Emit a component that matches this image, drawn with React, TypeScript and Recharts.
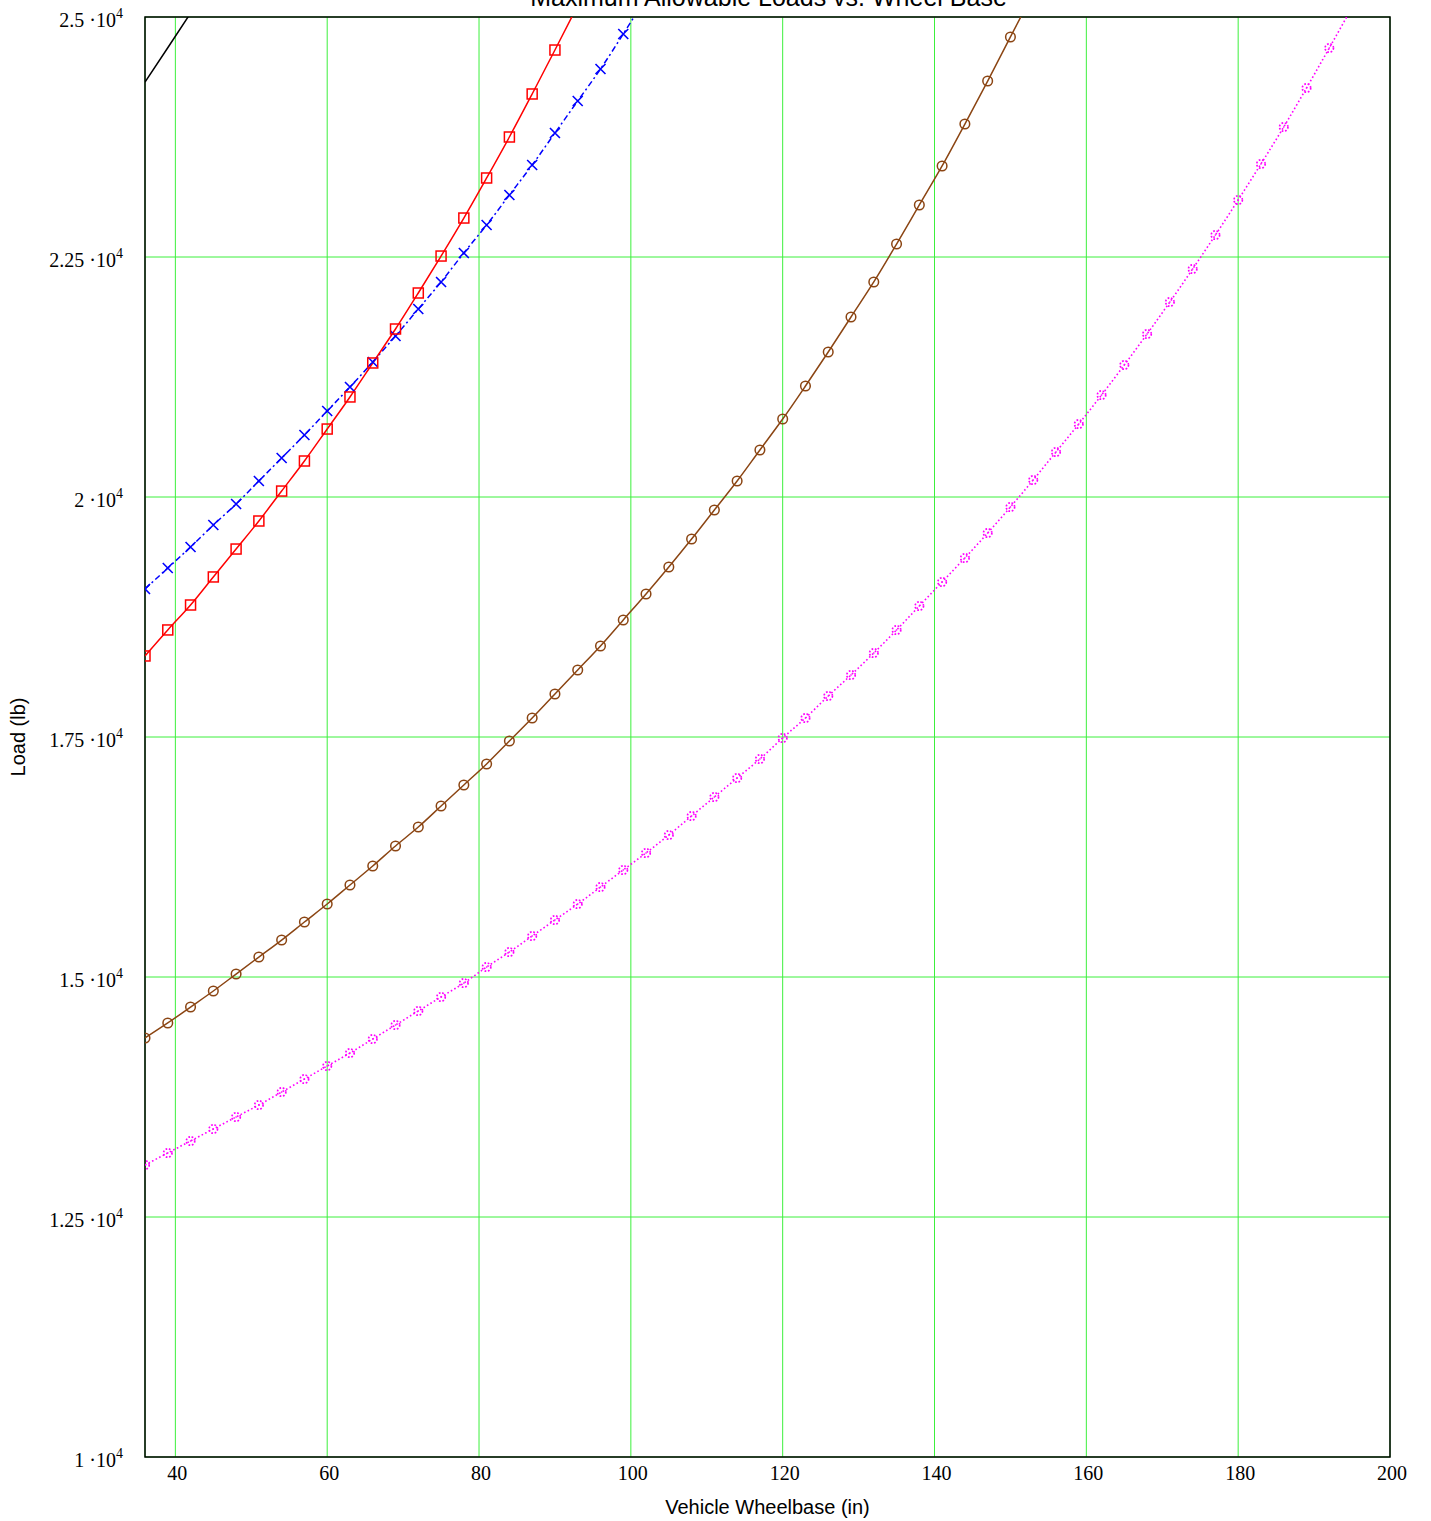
import React from 'react';
import { LineChart, Line, XAxis, YAxis, CartesianGrid, ReferenceArea, Label } from 'recharts';

// wheelbase positions of the markers (inches)
const wheelbase = [
  36, 39, 42, 45, 48, 51, 54, 57, 60, 63, 66, 69, 72, 75, 78, 81, 84, 87, 90, 93,
  96, 99, 102, 105, 108, 111, 114, 117, 120, 123, 126, 129, 132, 135, 138, 141, 144, 147, 150, 153,
  156, 159, 162, 165, 168, 171, 174, 177, 180, 183, 186, 189, 192, 195,
];

// loads (lb); last value of each runs past the top edge
const blackLoads = [24323, 24680, 25040];
const redLoads = [
  18344, 18615, 18875, 19167, 19458, 19750, 20062, 20375, 20708, 21042,
  21396, 21750, 22125, 22510, 22906, 23323, 23750, 24198, 24656, 25120,
];
const blueLoads = [
  19042, 19260, 19479, 19708, 19927, 20167, 20406, 20646, 20896, 21146,
  21406, 21677, 21958, 22240, 22542, 22833, 23146, 23458, 23792, 24125,
  24458, 24823, 25200,
];
const brownLoads = [
  14365, 14521, 14687, 14854, 15031, 15208, 15385, 15573, 15760, 15958,
  16156, 16365, 16562, 16781, 17000, 17219, 17458, 17698, 17948, 18198,
  18448, 18719, 18990, 19271, 19562, 19865, 20167, 20490, 20812, 21156,
  21510, 21875, 22240, 22635, 23042, 23448, 23885, 24333, 24792, 25250,
];
const magentaLoads = [
  13042, 13167, 13292, 13417, 13542, 13667, 13802, 13937, 14073, 14208,
  14354, 14500, 14646, 14792, 14937, 15104, 15260, 15427, 15594, 15760,
  15937, 16115, 16292, 16479, 16677, 16875, 17073, 17271, 17490, 17698,
  17927, 18146, 18375, 18615, 18865, 19115, 19365, 19625, 19896, 20177,
  20469, 20760, 21062, 21375, 21698, 22031, 22375, 22729, 23094, 23469,
  23854, 24260, 24677, 25100,
];

const xTicks = [40, 60, 80, 100, 120, 140, 160, 180, 200];
const yTicks = [10000, 12500, 15000, 17500, 20000, 22500, 25000];

const toSeries = (loads: number[]) => loads.map((load, i) => ({ wb: wheelbase[i], load }));

const GRID = '#3cf03c';
const SERIF = '"Liberation Serif", "Times New Roman", serif';
const SANS = '"Liberation Sans", Arial, sans-serif';

function XTick({ x, y, payload }: any) {
  return (
    <text x={x + 2} y={y + 23} textAnchor="middle" fontFamily={SERIF} fontSize={20} fill="#000">
      {payload.value}
    </text>
  );
}

function YTick({ x, y, payload }: any) {
  const mant = String(payload.value / 10000);
  return (
    <text x={x - 22} y={y + 10} textAnchor="end" fontFamily={SERIF} fontSize={20} fill="#000">
      <tspan>{mant} {'\u00B7'}10</tspan>
      <tspan fontSize={14} dy={-9}>4</tspan>
    </text>
  );
}

function SquareDot({ cx, cy, index }: any) {
  return <rect key={`sq-${index}`} x={cx - 5} y={cy - 5} width={10} height={10} fill="none" stroke="#ff0000" strokeWidth={1.5} />;
}

function CrossDot({ cx, cy, index }: any) {
  return (
    <path key={`cr-${index}`} d={`M${cx - 5},${cy - 5}L${cx + 5},${cy + 5}M${cx - 5},${cy + 5}L${cx + 5},${cy - 5}`}
      stroke="#0000ff" strokeWidth={1.6} fill="none" />
  );
}

function CircleDot({ cx, cy, index }: any) {
  return <circle key={`ci-${index}`} cx={cx} cy={cy} r={4.8} fill="none" stroke="#8b4513" strokeWidth={1.5} />;
}

function DottedDot({ cx, cy, index }: any) {
  return (
    <g key={`dd-${index}`}>
      <circle cx={cx} cy={cy} r={4.2} fill="none" stroke="#ff00ff" strokeWidth={1.7} strokeDasharray="1.7 1.7" />
      <rect x={cx - 0.7} y={cy - 0.7} width={1.4} height={1.4} fill="#ff00ff" />
    </g>
  );
}

export default function App() {
  return (
    <div style={{ position: 'absolute', left: 0, top: 0 }}>
      <LineChart width={1431} height={1521} margin={{ top: 17, right: 41, bottom: 24, left: 0 }}>
        <CartesianGrid stroke={GRID} strokeWidth={1} />
        <XAxis
          type="number"
          dataKey="wb"
          domain={[36, 200]}
          ticks={xTicks}
          allowDataOverflow
          height={40}
          axisLine={false}
          tickLine={false}
          tickSize={0}
          tickMargin={0}
          tick={<XTick />}
        >
          <Label
            content={({ viewBox }: any) => (
              <g>
                <text x={viewBox.x + viewBox.width / 2} y={viewBox.y + 57} textAnchor="middle" fontFamily={SANS} fontSize={20} fill="#000">
                  Vehicle Wheelbase (in)
                </text>
                <text x={viewBox.x + viewBox.width / 2 + 1} y={6} textAnchor="middle" fontFamily={SANS} fontSize={25} fill="#000">
                  Maximum Allowable Loads vs. Wheel Base
                </text>
              </g>
            )}
          />
        </XAxis>
        <YAxis
          type="number"
          dataKey="load"
          domain={[10000, 25000]}
          ticks={yTicks}
          allowDataOverflow
          width={145}
          axisLine={false}
          tickLine={false}
          tickSize={0}
          tickMargin={0}
          tick={<YTick />}
        >
          <Label
            content={({ viewBox }: any) => {
              const cy = viewBox.y + viewBox.height / 2;
              return (
                <text x={25} y={cy} transform={`rotate(-90 25 ${cy})`} textAnchor="middle" fontFamily={SANS} fontSize={20} fill="#000">
                  Load (lb)
                </text>
              );
            }}
          />
        </YAxis>

        <Line data={toSeries(magentaLoads)} dataKey="load" type="monotone" stroke="#ff00ff" strokeWidth={1.6}
          strokeDasharray="1.6 2.4" dot={(p: any) => <DottedDot key={`m-${p.index}`} {...p} />} isAnimationActive={false} />
        <Line data={toSeries(brownLoads)} dataKey="load" type="monotone" stroke="#8b4513" strokeWidth={1.5}
          dot={(p: any) => <CircleDot key={`b-${p.index}`} {...p} />} isAnimationActive={false} />
        <Line data={toSeries(blueLoads)} dataKey="load" type="monotone" stroke="#0000ff" strokeWidth={1.5}
          strokeDasharray="6 3 2 3" dot={(p: any) => <CrossDot key={`x-${p.index}`} {...p} />} isAnimationActive={false} />
        <Line data={toSeries(redLoads)} dataKey="load" type="monotone" stroke="#ff0000" strokeWidth={1.5}
          dot={(p: any) => <SquareDot key={`s-${p.index}`} {...p} />} isAnimationActive={false} />
        <Line data={toSeries(blackLoads)} dataKey="load" type="monotone" stroke="#000000" strokeWidth={1.5}
          dot={false} isAnimationActive={false} />

        <ReferenceArea x1={36} x2={200} y1={10000} y2={25000} fill="none" stroke="#000" strokeWidth={1.5} ifOverflow="visible" />
      </LineChart>
    </div>
  );
}
